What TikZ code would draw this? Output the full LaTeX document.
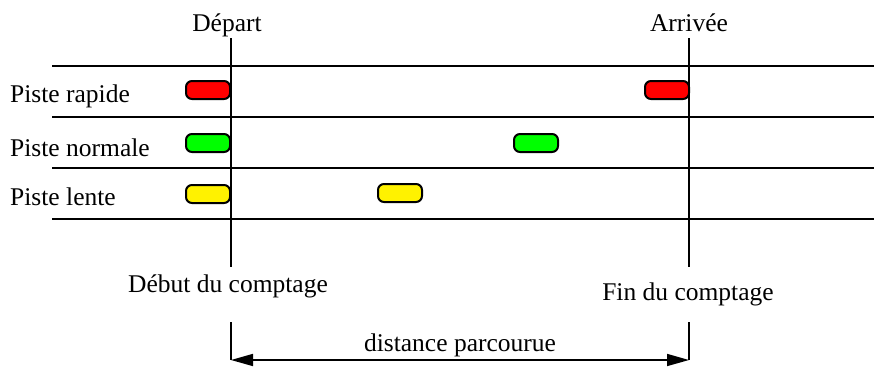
\documentclass[tikz,border=0pt]{standalone}
\usepackage{fontspec}
\setmainfont{Liberation Serif}
\usetikzlibrary{arrows.meta}
\begin{document}
\begin{tikzpicture}[x=1pt,y=-1pt,
  lane/.style={line width=1.6pt},
  car/.style={draw,line width=2pt,rounded corners=6pt,minimum width=44pt,minimum height=18pt,inner sep=0pt},
  lbl/.style={inner sep=0pt,font=\fontsize{25.5}{30}\selectfont},
  bigtip/.tip={Triangle[length=22pt,width=12pt]}]
\useasboundingbox (0,0) rectangle (874,367);
% lane lines
\coordinate (l1a) at (52,66); \coordinate (l1b) at (874,66);
\coordinate (l2a) at (52,117); \coordinate (l2b) at (874,117);
\coordinate (l3a) at (52,168); \coordinate (l3b) at (874,168);
\coordinate (l4a) at (52,219); \coordinate (l4b) at (874,219);
\draw[lane] (l1a) -- (l1b);
\draw[lane] (l2a) -- (l2b);
\draw[lane] (l3a) -- (l3b);
\draw[lane] (l4a) -- (l4b);
% start/finish lines
\coordinate (st) at (231,38); \coordinate (sb) at (231,267);
\coordinate (ft) at (689,38); \coordinate (fb) at (689,267);
\draw[lane] (st) -- (sb);
\draw[lane] (ft) -- (fb);
% cars
\node[car,fill=red] (r1) at (208,90) {};
\node[car,fill=red] (r2) at (667,90) {};
\node[car,fill=green] (g1) at (208,143) {};
\node[car,fill=green] (g2) at (536,143) {};
\node[car,fill=yellow] (y1) at (208,194) {};
\node[car,fill=yellow] (y2) at (400,193) {};
% labels
\node[lbl,anchor=base] (dep) at (227,31) {Départ};
\node[lbl,anchor=base] (arr) at (689,31) {Arrivée};
\node[lbl,anchor=base west] (pr) at (10,102) {Piste rapide};
\node[lbl,anchor=base west] (pn) at (10,156) {Piste normale};
\node[lbl,anchor=base west] (pl) at (10,205) {Piste lente};
\node[lbl,anchor=base] (deb) at (228,292) {Début du comptage};
\node[lbl,anchor=base] (fin) at (688,300) {Fin du comptage};
% distance
\coordinate (dl) at (231,322); \coordinate (dr) at (689,322);
\coordinate (al) at (231,360); \coordinate (ar) at (689,360);
\draw[line width=1.6pt] (dl) -- (al);
\draw[line width=1.6pt] (dr) -- (ar);
\draw[line width=1.6pt,bigtip-bigtip] (al) -- (ar);
\node[lbl,anchor=base] (dist) at (460,351) {distance parcourue};
\end{tikzpicture}
\end{document}
